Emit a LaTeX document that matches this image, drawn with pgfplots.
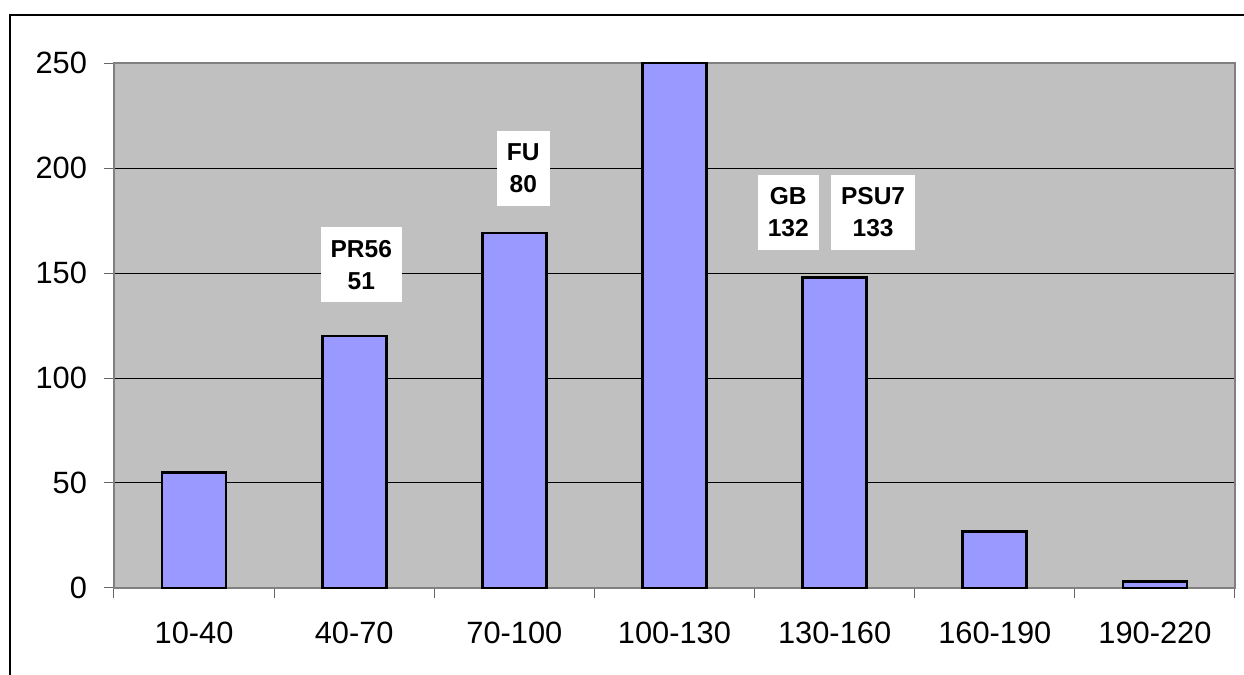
\documentclass[border=0pt]{standalone}
\usepackage{fontspec}
\setmainfont{Liberation Sans}
\usepackage{pgfplots}
\pgfplotsset{compat=1.18}
\definecolor{barblue}{HTML}{9999FF}
\definecolor{plotgray}{HTML}{C0C0C0}
\begin{document}
\begin{tikzpicture}
\useasboundingbox (0,0) rectangle (622pt,337.5pt);
\draw[black, line width=0.6pt] (5pt,0) -- (5pt,330pt) -- (622pt,330pt);
\begin{axis}[
  at={(57pt,43.5pt)}, anchor=south west,
  scale only axis, width=560.5pt, height=262.5pt,
  xmin=-0.5, xmax=6.5, ymin=0, ymax=250,
  clip=false,
  axis background/.style={fill=plotgray},
  axis line style={draw=black!50, line width=0.8pt},
  ytick={0,50,...,250},
  ymajorgrids, major grid style={black, line width=0.5pt},
  xtick={-0.5,0.5,...,6.5},
  xticklabels={10-40,40-70,70-100,100-130,130-160,160-190,190-220},
  x tick label as interval,
  xtick pos=bottom, ytick pos=left,
  tick align=outside, major tick length=5pt,
  tick style={draw=black!60, line width=0.5pt},
  /pgf/number format/assume math mode=true,
  ticklabel style={font=\fontsize{15.4}{18}\selectfont},
  yticklabel style={xshift=-5pt},
  xticklabel style={yshift=-8.5pt},
]
\addplot[ybar, bar width=32pt, fill=barblue, draw=black, line width=1.3pt]
  coordinates {(0,55) (1,120) (2,169) (3,250) (4,148) (5,27) (6,3)};
\tikzset{lab/.style={fill=white, font=\bfseries\fontsize{12.25}{16}\selectfont, align=center, inner xsep=5pt, inner ysep=0pt, minimum height=37.5pt}}
\node[lab] at (axis cs:1.044,154) {PR56\\51};
\node[lab] at (axis cs:2.056,199.8) {FU\\80};
\node[lab] at (axis cs:3.71,178.8) {GB\\132};
\node[lab] at (axis cs:4.24,178.8) {PSU7\\133};
\end{axis}
\end{tikzpicture}
\end{document}
